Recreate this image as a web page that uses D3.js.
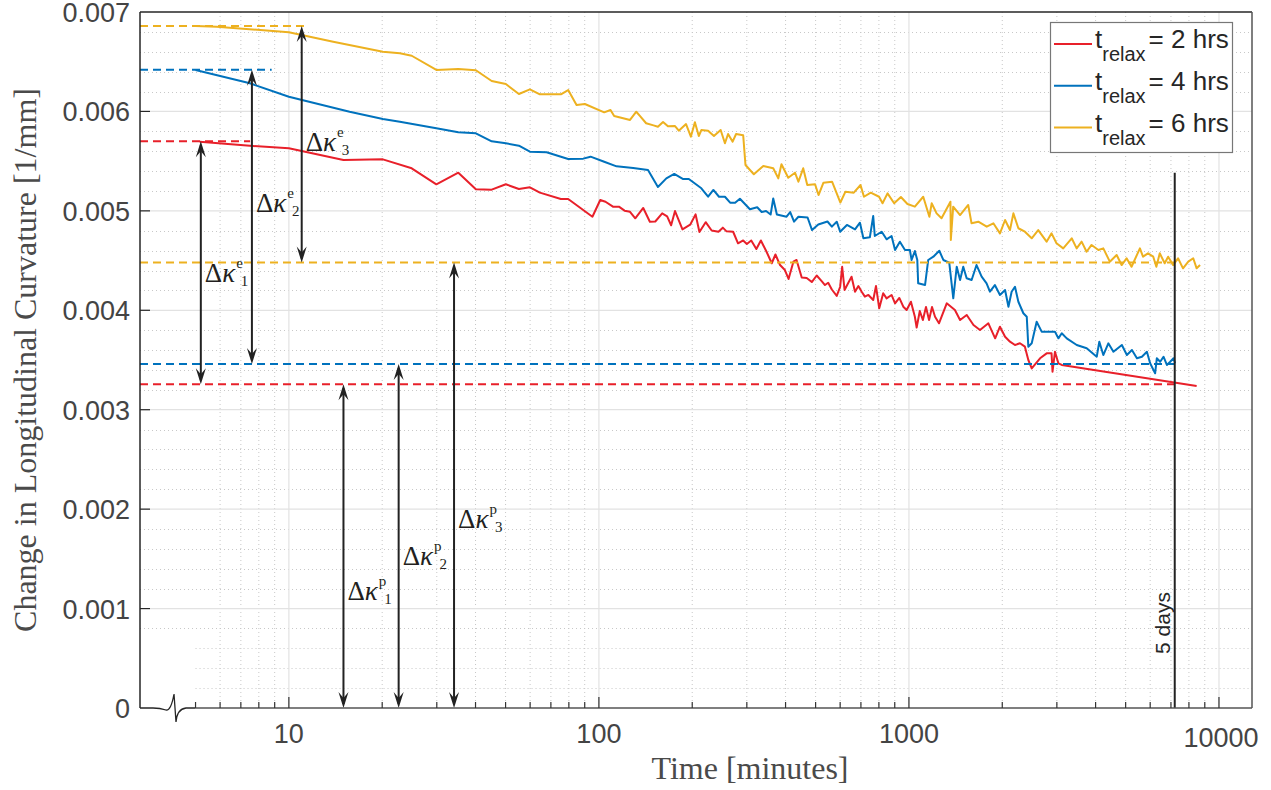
<!DOCTYPE html>
<html>
<head>
<meta charset="utf-8">
<script src="https://cdn.jsdelivr.net/npm/d3@7/dist/d3.min.js"></script>
<style>
    body { margin: 0; background: #fff; }
    .tick-label { font-family: "Liberation Sans", Arial, sans-serif; font-size: 27px; fill: #444; }
    .axis-title { font-family: "Liberation Serif", "Times New Roman", serif; font-size: 32px; fill: #4a4a4a; }
    .legend-text { font-family: "Liberation Sans", Arial, sans-serif; fill: #262626; }
    .anno { font-family: "Liberation Serif", "Times New Roman", serif; font-size: 27px; fill: #231f20; }
</style>
</head>
<body>
<div id="chart"></div>
<script>
// curvature values are in units of 0.001 1/mm, time in minutes

// t_relax = 2 hrs
var time2 = [5.16, 7.49, 10, 15.0, 20.1, 24.9, 29.9, 35.2, 40.1, 45.1,
    50.1, 55.2, 59.9, 64.5, 75.4, 79.6, 95.3, 101, 105, 111,
    116, 121, 126, 131, 139, 146, 152, 160, 166, 171,
    176, 186, 197, 205, 211, 221, 231, 243, 251, 258,
    271, 281, 292, 300, 310, 322, 333, 347, 361, 371,
    384, 398, 409, 424, 434, 451, 468, 486, 504, 523,
    536, 549, 564, 585, 600, 609, 620, 637, 653, 670,
    687, 704, 721, 740, 767, 783, 802, 826, 847, 879,
    902, 931, 959, 983, 1015, 1045, 1059, 1084, 1109, 1135,
    1161, 1187, 1214, 1250, 1324, 1407, 1462, 1536, 1615, 1695,
    1804, 1897, 1966, 2042, 2118, 2198, 2281, 2366, 2427, 2489,
    2648, 2781, 2884, 2905, 2958, 3034, 3111, 8472];
var curv2 = [5.696, 5.655, 5.629, 5.511, 5.518, 5.428, 5.267, 5.384, 5.217, 5.213,
    5.267, 5.220, 5.237, 5.183, 5.119, 5.119, 4.941, 5.109, 5.092, 5.042,
    5.042, 5.002, 4.991, 4.925, 5.029, 4.891, 4.893, 4.975, 4.945, 4.855,
    4.998, 4.814, 4.861, 4.965, 4.787, 4.886, 4.802, 4.790, 4.831, 4.794,
    4.790, 4.674, 4.702, 4.667, 4.702, 4.616, 4.702, 4.591, 4.473, 4.561,
    4.455, 4.405, 4.315, 4.489, 4.506, 4.330, 4.325, 4.284, 4.350, 4.294,
    4.254, 4.277, 4.209, 4.144, 4.237, 4.438, 4.204, 4.274, 4.338, 4.187,
    4.244, 4.187, 4.137, 4.154, 4.103, 4.244, 4.020, 4.171, 4.120, 4.154,
    4.070, 4.124, 4.036, 4.003, 4.086, 3.935, 3.827, 3.993, 3.902, 4.033,
    3.902, 4.033, 3.935, 3.869, 4.070, 4.003, 3.902, 3.953, 3.852, 3.802,
    3.869, 3.718, 3.835, 3.734, 3.684, 3.651, 3.668, 3.634, 3.500, 3.416,
    3.517, 3.567, 3.567, 3.382, 3.583, 3.467, 3.450, 3.239];

// t_relax = 4 hrs
var time4 = [5, 7.49, 10, 15.7, 20.1, 22.8, 29.9, 35.2, 40.1, 45.1,
    50.1, 55.2, 59.9, 67.8, 79.6, 89.0, 94.0, 104, 114, 129,
    144, 155, 165, 175, 187, 195, 214, 225, 234, 244,
    255, 265, 275, 285, 307, 324, 335, 346, 358, 365,
    375, 403, 414, 426, 440, 471, 487, 510, 546, 564,
    585, 600, 631, 670, 695, 713, 748, 767, 776, 817,
    847, 879, 902, 935, 971, 1007, 1020, 1045, 1064, 1071,
    1127, 1154, 1199, 1253, 1291, 1349, 1390, 1426, 1462, 1497,
    1535, 1593, 1652, 1716, 1780, 1825, 1893, 1966, 2042, 2094,
    2144, 2198, 2254, 2339, 2399, 2427, 2489, 2582, 2680, 2851,
    2957, 3034, 3111, 3228, 3477, 3744, 4034, 4112, 4236, 4397,
    4566, 4862, 5046, 5239, 5437, 5642, 5855, 5998, 6224, 6302,
    6462, 6624, 6791, 6962, 7133, 7218];
var curv4 = [6.417, 6.283, 6.148, 5.997, 5.924, 5.897, 5.830, 5.790, 5.780, 5.699,
    5.679, 5.655, 5.595, 5.589, 5.521, 5.525, 5.545, 5.494, 5.448, 5.431,
    5.411, 5.240, 5.327, 5.371, 5.320, 5.320, 5.227, 5.142, 5.210, 5.142,
    5.142, 5.082, 5.082, 5.122, 5.016, 5.036, 4.988, 4.998, 4.963, 5.124,
    4.963, 4.941, 4.988, 4.891, 4.941, 4.933, 4.807, 4.863, 4.893, 4.841,
    4.891, 4.790, 4.858, 4.814, 4.881, 4.724, 4.734, 4.948, 4.747, 4.790,
    4.714, 4.747, 4.606, 4.690, 4.606, 4.606, 4.506, 4.596, 4.506, 4.271,
    4.254, 4.506, 4.539, 4.599, 4.506, 4.479, 4.120, 4.438, 4.305, 4.438,
    4.322, 4.305, 4.455, 4.338, 4.271, 4.187, 4.254, 4.154, 4.204, 4.036,
    4.187, 4.237, 4.086, 3.970, 3.935, 3.634, 3.668, 3.885, 3.785, 3.785,
    3.785, 3.718, 3.769, 3.718, 3.651, 3.618, 3.533, 3.684, 3.550, 3.668,
    3.583, 3.651, 3.550, 3.601, 3.517, 3.533, 3.583, 3.467, 3.366, 3.517,
    3.483, 3.533, 3.450, 3.483, 3.517, 3.467];

// t_relax = 6 hrs
var time6 = [5, 5.85, 10, 13.9, 20.1, 22.8, 24.9, 29.9, 35.2, 40.1,
    45.1, 50.1, 55.2, 59.9, 64.5, 75.4, 79.6, 84.7, 90.1, 104,
    109, 112, 118, 126, 132, 136, 142, 150, 155, 161,
    167, 176, 181, 191, 198, 204, 210, 214, 225, 235,
    247, 255, 261, 270, 277, 292, 297, 316, 339, 365,
    379, 388, 408, 429, 440, 456, 470, 498, 511, 530,
    565, 601, 624, 664, 698, 716, 753, 801, 822, 853,
    896, 942, 989, 1045, 1112, 1164, 1184, 1228, 1274, 1361,
    1365, 1389, 1462, 1553, 1592, 1674, 1782, 1872, 1966, 2042,
    2118, 2172, 2254, 2366, 2489, 2612, 2780, 2884, 2992, 3145,
    3350, 3475, 3606, 3741, 3882, 4083, 4236, 4446, 4677, 4853,
    5035, 5224, 5559, 5689, 5902, 6138, 6281, 6442, 6683, 6855,
    7112, 7379, 7656, 7962, 8260, 8472, 8690];
var curv6 = [6.859, 6.852, 6.796, 6.701, 6.601, 6.585, 6.560, 6.417, 6.427, 6.414,
    6.306, 6.276, 6.175, 6.222, 6.172, 6.172, 6.215, 6.065, 6.075, 5.991,
    6.014, 5.954, 5.937, 5.914, 5.997, 5.951, 5.881, 5.860, 5.846, 5.894,
    5.850, 5.853, 5.806, 5.873, 5.746, 5.891, 5.753, 5.813, 5.806, 5.753,
    5.813, 5.680, 5.773, 5.696, 5.773, 5.760, 5.461, 5.368, 5.451, 5.428,
    5.327, 5.468, 5.333, 5.384, 5.293, 5.428, 5.260, 5.267, 5.159, 5.283,
    5.293, 5.084, 5.193, 5.183, 5.260, 5.142, 5.183, 5.142, 5.076, 5.176,
    5.076, 5.139, 5.069, 5.042, 5.142, 4.941, 5.076, 4.975, 4.925, 5.092,
    4.707, 5.042, 4.958, 5.059, 4.875, 4.891, 4.841, 4.875, 4.774, 4.908,
    4.807, 4.975, 4.825, 4.790, 4.724, 4.807, 4.690, 4.774, 4.674, 4.623,
    4.724, 4.623, 4.690, 4.589, 4.657, 4.606, 4.623, 4.489, 4.556, 4.455,
    4.523, 4.438, 4.623, 4.539, 4.573, 4.539, 4.438, 4.573, 4.473, 4.539,
    4.455, 4.523, 4.422, 4.489, 4.523, 4.422, 4.455];

var legendLabels = ["= 2 hrs", "= 4 hrs", "= 6 hrs"];
var seriesColors = ["#e8202a", "#0072bd", "#edb120"];

// elastic recovery: initial level and relaxed level for each run
var startLevels = [5.70, 6.42, 6.86];
var endLevels = [3.256, 3.46, 4.48];
var startDashEnd = [7.5, 8.8, 11.4];
var elasticArrowTime = [5.2, 7.6, 11.0];
var plasticArrowTime = [15.0, 22.6, 34.1];
var elasticLabelLevel = [4.285, 4.99, 5.60];
var plasticLabelLevel = [1.086, 1.438, 1.807];

var fiveDays = 7200;
var fiveDaysTop = 5.384;
var firstSample = 5;

var xTicks = [10, 100, 1000, 10000];
var xTickLabels = ["10", "100", "1000", "10000"];
var yTicks = [0, 1, 2, 3, 4, 5, 6, 7];
var yTickLabels = ["0", "0.001", "0.002", "0.003", "0.004", "0.005", "0.006", "0.007"];

var width = 1271, height = 790;
var padL = 140, padR = 1252, padT = 12, padB = 708;

var x = d3.scaleLog().domain([3.31, 12780]).range([padL, padR]);
var y = d3.scaleLinear().domain([0, 7]).range([padB, padT]);

var svg = d3.select("#chart").append("svg")
    .attr("width", width)
    .attr("height", height);

// minor values for log axis
var minorX = [];
[1, 10, 100, 1000].forEach(function (dec) {
    for (var m = 2; m <= 9; m++) {
        var v = m * dec;
        if (v >= firstSample && v <= 12780) minorX.push(v);
    }
});
var minorY = d3.range(1, 35).map(function (i) { return i * 0.2; })
    .filter(function (v) { return Math.abs(v - Math.round(v)) > 0.01; });

// grid
var grid = svg.append("g");
grid.selectAll(".gx-minor")
    .data(minorX.filter(function (v) { return v > firstSample; }))
    .enter().append("line")
    .attr("x1", function (d) { return x(d); })
    .attr("x2", function (d) { return x(d); })
    .attr("y1", padT).attr("y2", padB)
    .attr("stroke", "#c8c8c8").attr("stroke-width", 1)
    .attr("stroke-dasharray", "1,3");
grid.selectAll(".gy-minor")
    .data(minorY)
    .enter().append("line")
    .attr("x1", function (d) { return d < 0.7 ? x(firstSample) : padL; })
    .attr("x2", padR)
    .attr("y1", function (d) { return Math.round(y(d)) + 0.5; })
    .attr("y2", function (d) { return Math.round(y(d)) + 0.5; })
    .attr("stroke", "#c8c8c8").attr("stroke-width", 1)
    .attr("stroke-dasharray", "1,3");
grid.selectAll(".gx-major")
    .data(xTicks)
    .enter().append("line")
    .attr("x1", function (d) { return x(d); })
    .attr("x2", function (d) { return x(d); })
    .attr("y1", padT).attr("y2", padB)
    .attr("stroke", "#e2e2e2").attr("stroke-width", 1.2);
grid.selectAll(".gy-major")
    .data(yTicks.slice(1, 7))
    .enter().append("line")
    .attr("x1", padL).attr("x2", padR)
    .attr("y1", function (d) { return y(d); })
    .attr("y2", function (d) { return y(d); })
    .attr("stroke", "#e2e2e2").attr("stroke-width", 1.2);

// curves
var series = [
    { t: time2, c: curv2 },
    { t: time4, c: curv4 },
    { t: time6, c: curv6 }
];
var line = d3.line()
    .x(function (d) { return x(d[0]); })
    .y(function (d) { return y(d[1]); });

svg.append("g").selectAll("path")
    .data(series)
    .enter().append("path")
    .attr("d", function (s) {
        return line(s.t.map(function (t, i) { return [t, s.c[i]]; }));
    })
    .attr("fill", "none")
    .attr("stroke", function (s, i) { return seriesColors[i]; })
    .attr("stroke-width", 2)
    .attr("stroke-linejoin", "round");

// dashed reference levels
var dashes = svg.append("g")
    .attr("fill", "none")
    .attr("stroke-width", 2)
    .attr("stroke-dasharray", "8,5");
startLevels.forEach(function (lv, i) {
    dashes.append("line")
        .attr("x1", padL).attr("x2", x(startDashEnd[i]))
        .attr("y1", y(lv)).attr("y2", y(lv))
        .attr("stroke", seriesColors[i]);
    dashes.append("line")
        .attr("x1", padL).attr("x2", x(fiveDays))
        .attr("y1", y(endLevels[i])).attr("y2", y(endLevels[i]))
        .attr("stroke", seriesColors[i]);
});

// five days marker
svg.append("line")
    .attr("x1", x(fiveDays)).attr("x2", x(fiveDays))
    .attr("y1", y(fiveDaysTop)).attr("y2", y(0))
    .attr("stroke", "#222").attr("stroke-width", 2);
svg.append("text")
    .attr("class", "legend-text")
    .attr("font-size", 21)
    .attr("text-anchor", "middle")
    .attr("transform", "translate(" + (x(fiveDays) - 5) + ",623) rotate(-90)")
    .text("5 days");

// arrows
var arrows = svg.append("g");
function arrowHead(px, py, dir) {
    // dir -1: pointing up, +1: pointing down
    arrows.append("path")
        .attr("d", "M" + px + "," + py +
            "L" + (px - 5) + "," + (py - dir * 16) +
            "L" + px + "," + (py - dir * 10) +
            "L" + (px + 5) + "," + (py - dir * 16) + "Z")
        .attr("fill", "#222");
}
function doubleArrow(t, v1, v2) {
    var px = x(t);
    arrows.append("line")
        .attr("x1", px).attr("x2", px)
        .attr("y1", y(v1) + 4).attr("y2", y(v2) - 4)
        .attr("stroke", "#222").attr("stroke-width", 2);
    arrowHead(px, y(v1), -1);
    arrowHead(px, y(v2), 1);
}
for (var i = 0; i < 3; i++) {
    doubleArrow(elasticArrowTime[i], startLevels[i], endLevels[i]);
    doubleArrow(plasticArrowTime[i], endLevels[i], 0);
}

function kappaLabel(px, py, sup, sub) {
    var t = svg.append("text").attr("class", "anno")
        .attr("x", px).attr("y", py);
    t.append("tspan").text("\u0394");
    t.append("tspan").attr("font-style", "italic").text("\u03ba");
    t.append("tspan").attr("font-size", 15).attr("dy", -14).attr("dx", 1).text(sup);
    t.append("tspan").attr("font-size", 15).attr("dy", 18).attr("dx", -2).text(sub);
}
for (var j = 0; j < 3; j++) {
    kappaLabel(x(elasticArrowTime[j]) + 4, y(elasticLabelLevel[j]), "e", String(j + 1));
    kappaLabel(x(plasticArrowTime[j]) + 4, y(plasticLabelLevel[j]), "p", String(j + 1));
}

// axes box
var axisG = svg.append("g").attr("fill", "none");
axisG.append("line").attr("x1", padL).attr("x2", padL).attr("y1", padT).attr("y2", padB)
    .attr("stroke", "#262626").attr("stroke-width", 1.5);
axisG.append("line").attr("x1", padL).attr("x2", padR).attr("y1", padT).attr("y2", padT)
    .attr("stroke", "#262626").attr("stroke-width", 1.5);
axisG.append("line").attr("x1", padR).attr("x2", padR).attr("y1", padT).attr("y2", padB)
    .attr("stroke", "#555").attr("stroke-width", 1.5);
axisG.append("line").attr("x1", x(firstSample)).attr("x2", padR).attr("y1", padB).attr("y2", padB)
    .attr("stroke", "#555").attr("stroke-width", 1.5);
// axis break
var b0 = padL;
axisG.append("path")
    .attr("d", "M" + b0 + "," + padB + "L" + (b0 + 13) + "," + padB +
        "Q" + (b0 + 20) + "," + padB + " " + (b0 + 26) + "," + (padB + 2) +
        "Q" + (b0 + 31) + "," + (padB + 3) + " " + (b0 + 34) + "," + (padB - 14) +
        "L" + (b0 + 36) + "," + (padB + 14) +
        "Q" + (b0 + 37) + "," + (padB + 1) + " " + (b0 + 46) + "," + padB +
        "L" + x(firstSample) + "," + padB)
    .attr("stroke", "#262626").attr("stroke-width", 1.3);

// ticks
svg.append("g").selectAll("line")
    .data(minorX)
    .enter().append("line")
    .attr("x1", function (d) { return x(d); })
    .attr("x2", function (d) { return x(d); })
    .attr("y1", padB).attr("y2", padB - 6)
    .attr("stroke", "#333").attr("stroke-width", 1.2);
svg.append("g").selectAll("line")
    .data(xTicks)
    .enter().append("line")
    .attr("x1", function (d) { return x(d); })
    .attr("x2", function (d) { return x(d); })
    .attr("y1", padB).attr("y2", padB - 11)
    .attr("stroke", "#333").attr("stroke-width", 1.2);
svg.append("g").selectAll("line")
    .data(yTicks.slice(1, 7))
    .enter().append("line")
    .attr("x1", padL).attr("x2", padL + 10)
    .attr("y1", function (d) { return y(d); })
    .attr("y2", function (d) { return y(d); })
    .attr("stroke", "#262626").attr("stroke-width", 1.2);

svg.append("g").selectAll("text")
    .data(xTicks)
    .enter().append("text")
    .attr("class", "tick-label")
    .attr("text-anchor", "middle")
    .attr("x", function (d, i) { return x(d) + (i === 3 ? 2 : 0); })
    .attr("y", function (d, i) { return i === 3 ? 747 : 743; })
    .text(function (d, i) { return xTickLabels[i]; });
svg.append("g").selectAll("text")
    .data(yTicks)
    .enter().append("text")
    .attr("class", "tick-label")
    .attr("text-anchor", "end")
    .attr("x", padL - 10)
    .attr("y", function (d) { return y(d) + 10; })
    .text(function (d, i) { return yTickLabels[i]; });

svg.append("text")
    .attr("class", "axis-title")
    .attr("text-anchor", "middle")
    .attr("x", 750).attr("y", 779)
    .text("Time [minutes]");
svg.append("text")
    .attr("class", "axis-title")
    .attr("text-anchor", "middle")
    .attr("transform", "translate(35.5,360) rotate(-90)")
    .text("Change in Longitudinal Curvature [1/mm]");

// legend
var legend = svg.append("g");
legend.append("rect")
    .attr("x", 1050.5).attr("y", 22.5)
    .attr("width", 182).attr("height", 130)
    .attr("fill", "#fff").attr("stroke", "#777").attr("stroke-width", 1.2);
legendLabels.forEach(function (lab, i) {
    var by = 48 + i * 41.8;
    legend.append("line")
        .attr("x1", 1054).attr("x2", 1092)
        .attr("y1", by - 4).attr("y2", by - 4)
        .attr("stroke", seriesColors[i]).attr("stroke-width", 2);
    var t = legend.append("text").attr("class", "legend-text")
        .attr("x", 1095).attr("y", by).attr("font-size", 26);
    t.append("tspan").text("t");
    t.append("tspan").attr("font-size", 20).attr("dy", 13).text("relax");
    t.append("tspan").attr("dy", -13).attr("dx", 3).text(lab);
});
</script>
</body>
</html>
